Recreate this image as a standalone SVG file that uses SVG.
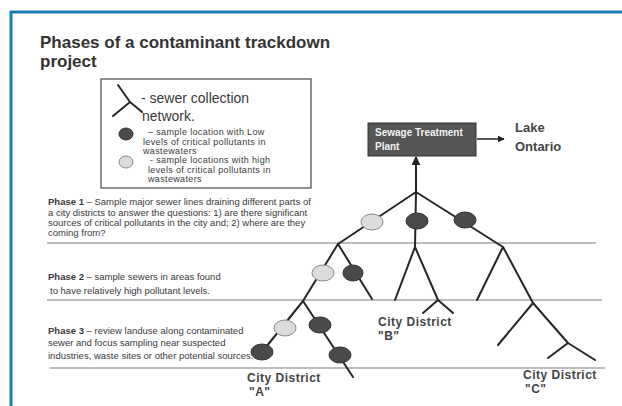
<svg xmlns="http://www.w3.org/2000/svg" width="622" height="406" viewBox="0 0 622 406">
<style>
text{font-family:"Liberation Sans",Arial,sans-serif;fill:#3a3a3a}
.title{font-size:17px;font-weight:bold;fill:#333}
.leg{font-size:14px}
.small{font-size:9px;letter-spacing:0.35px}
.ph{font-size:9.5px}
.b{font-weight:bold}
.city{font-size:12px;font-weight:bold;fill:#444;letter-spacing:0.5px}
.lake{font-size:13px;font-weight:bold;fill:#444}
.stp{font-size:10px;font-weight:bold;fill:#f2f2f2}
.pline{stroke:#a8a8a8;stroke-width:1.6;fill:none}
.sewer{stroke:#262626;stroke-width:2;fill:none;stroke-linecap:round;stroke-linejoin:round}
.dark{fill:#4a4a4a;stroke:#333;stroke-width:1}
.light{fill:#dcdcdc;stroke:#8a8a8a;stroke-width:1}
</style>
<defs>
<marker id="ah" viewBox="0 0 10 10" refX="9" refY="5" markerWidth="4.5" markerHeight="4.5" orient="auto-start-reverse">
<path d="M0,0 L10,5 L0,10 z" fill="#222"/>
</marker>
</defs>
<rect x="0" y="0" width="622" height="406" fill="#fff"/>
<g id="frame">
<line x1="10" y1="12" x2="622" y2="12" stroke="#1a7bb9" stroke-width="3"/>
<line x1="11" y1="11" x2="11" y2="406" stroke="#1a7bb9" stroke-width="3"/>
</g>
<g id="title">
<text class="title" x="40" y="48">Phases of a contaminant trackdown</text>
<text class="title" x="40" y="67">project</text>
</g>
<g id="legend">
<rect x="101" y="79" width="210" height="109" fill="#fff" stroke="#555" stroke-width="1.3"/>
<path class="sewer" d="M118,85 L130,102 L113,116 M130,102 L142,112"/>
<text class="leg" x="141" y="103">- sewer collection</text>
<text class="leg" x="142" y="121">network.</text>
<ellipse class="dark" cx="126" cy="134" rx="7" ry="6"/>
<text class="small" x="148" y="135">– sample location with Low</text>
<text class="small" x="143" y="145">levels of critical pollutants in</text>
<text class="small" x="143" y="154">wastewaters</text>
<ellipse class="light" cx="126" cy="162" rx="7" ry="6"/>
<text class="small" x="150" y="163">- sample locations with high</text>
<text class="small" x="148" y="173">levels of critical pollutants  in</text>
<text class="small" x="148" y="182">wastewaters</text>
</g>
<g id="phase1">
<text class="ph" x="48" y="205"><tspan class="b">Phase 1</tspan> – Sample major sewer lines draining different parts of</text>
<text class="ph" x="48" y="216">a city districts to answer the questions: 1) are there significant</text>
<text class="ph" x="48" y="226">sources of critical pollutants in the city and; 2)  where are they</text>
<text class="ph" x="48" y="236">coming from?</text>
</g>
<g id="phase2">
<text class="ph" x="48" y="280"><tspan class="b">Phase 2</tspan> – sample sewers in areas found</text>
<text class="ph" x="50" y="294">to have relatively high pollutant levels.</text>
</g>
<g id="phase3">
<text class="ph" x="48" y="334"><tspan class="b">Phase 3</tspan> – review landuse along contaminated</text>
<text class="ph" x="48" y="346">sewer and focus sampling near suspected</text>
<text class="ph" x="48" y="359">industries, waste sites or other potential sources.</text>
</g>
<g id="phase-lines">
<line class="pline" x1="47" y1="243" x2="596" y2="243"/>
<line class="pline" x1="47" y1="300" x2="602" y2="300"/>
<line class="pline" x1="50" y1="368" x2="605" y2="368"/>
</g>
<g id="connectors">
<path class="sewer" d="M416,192 L338,244 L303,301 L262,352"/>
<path class="sewer" d="M338,244 L372,299"/>
<path class="sewer" d="M416,192 L415,247 L395,300 M415,247 L438,300 L453,313 M438,300 L423,313"/>
<path class="sewer" d="M416,192 L503,247 L477,300 M503,247 L533,303 L498,345 M533,303 L568,343 L548,358 M568,343 L595,360"/>
<path class="sewer" d="M303,301 L353,377"/>
<line x1="416" y1="192" x2="416" y2="157" stroke="#222" stroke-width="2" marker-end="url(#ah)"/>
<line x1="477" y1="139" x2="504" y2="139" stroke="#222" stroke-width="1.5" marker-end="url(#ah)"/>
</g>
<g id="stp">
<rect x="368" y="123" width="108" height="33" fill="#555" stroke="#333" stroke-width="1"/>
<text class="stp" x="375" y="136">Sewage Treatment</text>
<text class="stp" x="375" y="150">Plant</text>
</g>
<g id="lake">
<text class="lake" x="515" y="132">Lake</text>
<text class="lake" x="515" y="151">Ontario</text>
</g>
<g id="samples">
<ellipse class="light" cx="372" cy="222" rx="11" ry="8"/>
<ellipse class="dark" cx="417" cy="221" rx="11" ry="8"/>
<ellipse class="dark" cx="465" cy="220" rx="11" ry="8"/>
<ellipse class="light" cx="323" cy="273" rx="11" ry="8"/>
<ellipse class="dark" cx="353" cy="273" rx="10" ry="8"/>
<ellipse class="light" cx="285" cy="328" rx="11" ry="8"/>
<ellipse class="dark" cx="262" cy="352" rx="11" ry="8"/>
<ellipse class="dark" cx="320" cy="325" rx="11" ry="8"/>
<ellipse class="dark" cx="340" cy="355" rx="11" ry="8"/>
</g>
<g id="districts">
<text class="city" x="247" y="382">City District</text>
<text class="city" x="249" y="396">"A"</text>
<text class="city" x="378" y="326">City District</text>
<text class="city" x="378" y="340">"B"</text>
<text class="city" x="523" y="379">City District</text>
<text class="city" x="525" y="393">"C"</text>
</g>
</svg>
